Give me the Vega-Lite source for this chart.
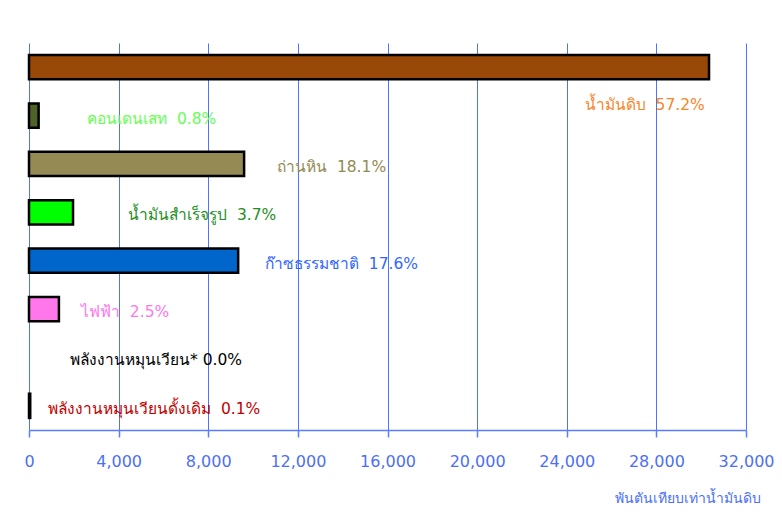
{
  "$schema": "https://vega.github.io/schema/vega-lite/v6.json",
  "width": 717,
  "height": 387,
  "autosize": {"type": "none"},
  "padding": {"left": 29, "top": 43, "right": 36, "bottom": 85},
  "background": "white",
  "config": {
    "view": {"stroke": null},
    "font": "DejaVu Sans"
  },
  "data": {
    "values": [
      {"name": "น้ำมันดิบ", "value": 30350, "label": "น้ำมันดิบ\u00a0\u00a057.2%", "lx": 24800},
      {"name": "คอนเดนเสท", "value": 430, "label": "คอนเดนเสท\u00a0\u00a00.8%", "lx": 2590},
      {"name": "ถ่านหิน", "value": 9600, "label": "ถ่านหิน\u00a0\u00a018.1%", "lx": 11070},
      {"name": "น้ำมันสำเร็จรูป", "value": 1965, "label": "น้ำมันสำเร็จรูป\u00a0\u00a03.7%", "lx": 4420},
      {"name": "ก๊าซธรรมชาติ", "value": 9335, "label": "ก๊าซธรรมชาติ\u00a0\u00a017.6%", "lx": 10530},
      {"name": "ไฟฟ้า", "value": 1335, "label": "ไฟฟ้า\u00a0\u00a02.5%", "lx": 2320},
      {"name": "พลังงานหมุนเวียน*", "value": 0, "label": "พลังงานหมุนเวียน* 0.0%", "lx": 1830},
      {"name": "พลังงานหมุนเวียนดั้งเดิม", "value": 55, "label": "พลังงานหมุนเวียนดั้งเดิม\u00a0\u00a00.1%", "lx": 850}
    ]
  },
  "encoding": {
    "y": {
      "field": "name",
      "type": "nominal",
      "sort": null,
      "scale": {
        "domain": ["น้ำมันดิบ", "คอนเดนเสท", "ถ่านหิน", "น้ำมันสำเร็จรูป", "ก๊าซธรรมชาติ", "ไฟฟ้า", "พลังงานหมุนเวียน*", "พลังงานหมุนเวียนดั้งเดิม"],
        "paddingInner": 0.5,
        "paddingOuter": 0.25
      },
      "axis": null
    }
  },
  "layer": [
    {
      "transform": [{"filter": "datum.value > 0"}],
      "mark": {"type": "bar", "stroke": "black", "strokeWidth": 2.5, "strokeJoin": "miter"},
      "encoding": {
        "x": {
          "field": "value",
          "type": "quantitative",
          "scale": {"domain": [0, 32000], "nice": false, "zero": true},
          "axis": {
            "values": [0, 4000, 8000, 12000, 16000, 20000, 24000, 28000, 32000],
            "format": ",d",
            "grid": true,
            "gridColor": "#4f72ff",
            "gridWidth": 1,
            "gridOpacity": 1,
            "domainColor": "#5a7cff",
            "domainWidth": 1.5,
            "tickColor": "#5a7cff",
            "tickSize": 7,
            "tickWidth": 1.5,
            "labelColor": "#4d6ff5",
            "labelFontSize": 16,
            "labelPadding": 16,
            "labelFlush": false,
            "labelOverlap": false,
            "labelBound": false,
            "labelFont": "DejaVu Sans",
            "title": "พันตันเทียบเท่าน้ำมันดิบ",
            "titleColor": "#4d6ff5",
            "titleFontSize": 14,
            "titleFontWeight": "normal",
            "titleAnchor": "end",
            "titleAlign": "right",
            "titleX": 731,
            "titleY": 61
          }
        },
        "fill": {
          "field": "name",
          "type": "nominal",
          "scale": {
            "domain": ["น้ำมันดิบ", "คอนเดนเสท", "ถ่านหิน", "น้ำมันสำเร็จรูป", "ก๊าซธรรมชาติ", "ไฟฟ้า", "พลังงานหมุนเวียน*", "พลังงานหมุนเวียนดั้งเดิม"],
            "range": ["#984807", "#4f6228", "#948a54", "#00ff00", "#0066cc", "#ff77ea", "#000000", "#c00000"]
          },
          "legend": null
        }
      }
    },
    {
      "transform": [{"filter": "datum.name === 'น้ำมันดิบ'"}],
      "mark": {"type": "text", "align": "left", "baseline": "middle", "dy": 38, "fontSize": 15.5},
      "encoding": {
        "x": {"field": "lx", "type": "quantitative"},
        "text": {"field": "label"},
        "color": {
          "field": "name",
          "type": "nominal",
          "scale": {
            "domain": ["น้ำมันดิบ", "คอนเดนเสท", "ถ่านหิน", "น้ำมันสำเร็จรูป", "ก๊าซธรรมชาติ", "ไฟฟ้า", "พลังงานหมุนเวียน*", "พลังงานหมุนเวียนดั้งเดิม"],
            "range": ["#f7862b", "#66ff55", "#948a54", "#1f8f1f", "#3366ff", "#ff77ee", "#000000", "#c00000"]
          },
          "legend": null
        }
      }
    },
    {
      "transform": [{"filter": "datum.name !== 'น้ำมันดิบ'"}],
      "mark": {"type": "text", "align": "left", "baseline": "middle", "dy": 3, "fontSize": 15.5},
      "encoding": {
        "x": {"field": "lx", "type": "quantitative"},
        "text": {"field": "label"},
        "color": {
          "field": "name",
          "type": "nominal",
          "scale": {
            "domain": ["น้ำมันดิบ", "คอนเดนเสท", "ถ่านหิน", "น้ำมันสำเร็จรูป", "ก๊าซธรรมชาติ", "ไฟฟ้า", "พลังงานหมุนเวียน*", "พลังงานหมุนเวียนดั้งเดิม"],
            "range": ["#f7862b", "#66ff55", "#948a54", "#1f8f1f", "#3366ff", "#ff77ee", "#000000", "#c00000"]
          },
          "legend": null
        }
      }
    }
  ]
}
